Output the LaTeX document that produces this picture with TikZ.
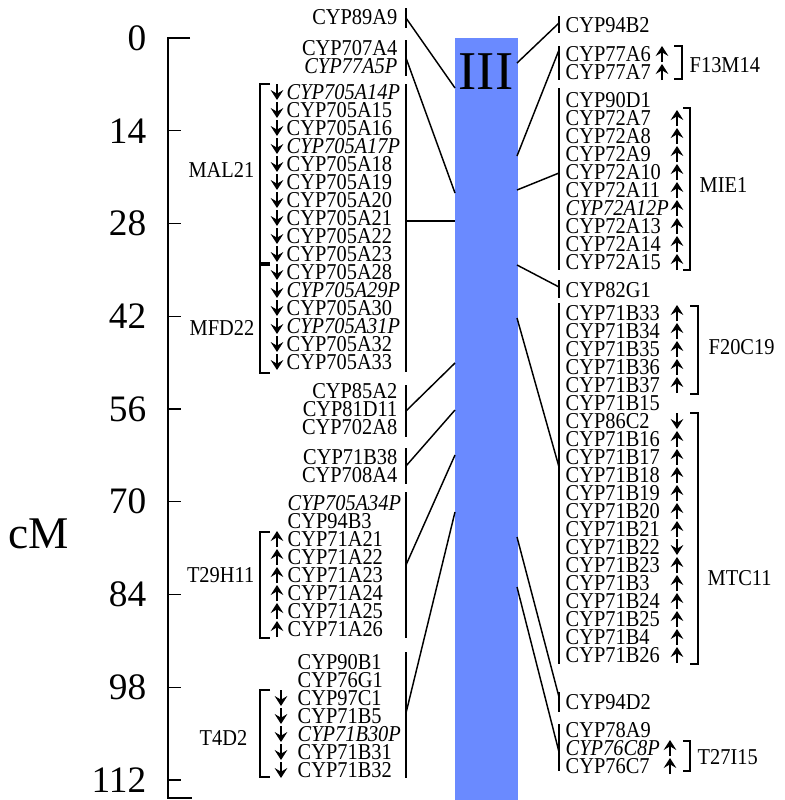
\documentclass[tikz,border=0pt]{standalone}
\usepackage{fontspec}
\setmainfont{Liberation Serif}
\newfontfamily\genefont{Liberation Serif}[FakeStretch=0.9]
\usetikzlibrary{arrows.meta}
\definecolor{chrblue}{RGB}{106,138,255}

\begin{document}
\begin{tikzpicture}[x=0.75pt,y=-0.75pt,line width=1.1pt,
	gene/.style={inner sep=0pt,font=\genefont\fontsize{17}{17}\selectfont},
	strand/.style={line width=1.4pt,-{Stealth[length=7.5pt,width=9.5pt,inset=2.8pt]}}]
	\useasboundingbox (0,0) rectangle (785,800);

	\draw (190,38) -- (168,38) -- (168,798) -- (192,798);
	\foreach \k in {1,...,8}
		\draw (168,38+92.75*\k) -- (181,38+92.75*\k);
	\foreach \v [count=\k from 0] in {0,14,28,42,56,70,84,98,112}
		\node[inner sep=0pt,anchor=east,font=\fontsize{28}{28}\selectfont] (s\k) at (147,38+92.75*\k) {\v};
	\node[inner sep=0pt,anchor=west,font=\fontsize{34}{34}\selectfont] (cM) at (8,534) {cM};

	\fill[chrblue] (455,38) rectangle (518,800);
	\node[inner sep=0pt,font=\fontsize{41}{41}\selectfont] (chr) at (486,72) {III};

	\node[gene,anchor=east] (g1) at (398,17) {CYP89A9};
	\node[gene,anchor=east] (g2) at (398,48) {CYP707A4};
	\node[gene,anchor=east] (g3) at (398,66) {\textit{CYP77A5P}};
	\node[gene,anchor=east] (g4) at (398,391) {CYP85A2};
	\node[gene,anchor=east] (g5) at (398,409) {CYP81D11};
	\node[gene,anchor=east] (g6) at (398,427) {CYP702A8};
	\node[gene,anchor=east] (g7) at (398,457) {CYP71B38};
	\node[gene,anchor=east] (g8) at (398,475) {CYP708A4};

	\foreach \n [count=\k from 0] in {\textit{CYP705A14P},CYP705A15,CYP705A16,\textit{CYP705A17P},CYP705A18,CYP705A19,CYP705A20,CYP705A21,CYP705A22,CYP705A23,CYP705A28,\textit{CYP705A29P},CYP705A30,\textit{CYP705A31P},CYP705A32,CYP705A33}{
		\node[gene,anchor=west] (m\k) at (286,92+18*\k) {\n};
		\draw[strand] (277,84+18*\k) -- (277,100+18*\k);
	}
	\foreach \n/\d [count=\k from 0] in {\textit{CYP705A34P}/0,CYP94B3/0,CYP71A21/-1,CYP71A22/-1,CYP71A23/-1,CYP71A24/-1,CYP71A25/-1,CYP71A26/-1}{
		\node[gene,anchor=west] (t\k) at (287,503+18*\k) {\n};
		\ifnum\d=0\else\draw[strand] (277,511+18*\k) -- (277,495+18*\k);\fi
	}
	\foreach \n/\d [count=\k from 0] in {CYP90B1/0,CYP76G1/0,CYP97C1/1,CYP71B5/1,\textit{CYP71B30P}/1,CYP71B31/1,CYP71B32/1}{
		\node[gene,anchor=west] (d\k) at (297,662+18*\k) {\n};
		\ifnum\d=0\else\draw[strand] (281,654+18*\k) -- (281,670+18*\k);\fi
	}

	\draw (270,84) -- (260,84) -- (260,263) -- (270,263);
	\draw (270,265) -- (260,265) -- (260,373) -- (270,373);
	\draw (270,532) -- (260,532) -- (260,638) -- (270,638);
	\draw (270,690) -- (260,690) -- (260,777) -- (270,777);
	\node[gene,anchor=east] (MAL21) at (255,170) {MAL21};
	\node[gene,anchor=east] (MFD22) at (255,328) {MFD22};
	\node[gene,anchor=east] (T29H11) at (255,575) {T29H11};
	\node[gene,anchor=east] (T4D2) at (248,738) {T4D2};

	\foreach \t/\b in {8/28,40/76,84/372,385/437,448/484,492/638,652/778}
		\draw (406,\t) -- (406,\b);
	\foreach \p/\q [count=\i] in {18/88,58/193,221/221,411/363,466/410,565/455,713/512}{
		\coordinate (lb\i) at (406,\p);
		\coordinate (lc\i) at (455,\q);
		\draw (lb\i) -- (lc\i);
	}

	\node[gene,anchor=west] (r1) at (565,25) {CYP94B2};
	\node[gene,anchor=west] (r2) at (565,54) {CYP77A6};
	\node[gene,anchor=west] (r3) at (565,72) {CYP77A7};
	\draw[strand] (662,62) -- (662,46);
	\draw[strand] (662,80) -- (662,64);
	\node[gene,anchor=west] (r4) at (565,290) {CYP82G1};
	\node[gene,anchor=west] (r5) at (565,702) {CYP94D2};

	\foreach \n/\d [count=\k from 0] in {CYP90D1/0,CYP72A7/-1,CYP72A8/-1,CYP72A9/-1,CYP72A10/-1,CYP72A11/-1,\textit{CYP72A12P}/-1,CYP72A13/-1,CYP72A14/-1,CYP72A15/-1}{
		\node[gene,anchor=west] (e\k) at (565,100+18*\k) {\n};
		\ifnum\d=0\else\draw[strand] (677,108+18*\k) -- (677,92+18*\k);\fi
	}
	\foreach \n/\d [count=\k from 0] in {CYP71B33/-1,CYP71B34/-1,CYP71B35/-1,CYP71B36/-1,CYP71B37/-1,CYP71B15/0,CYP86C2/1,CYP71B16/-1,CYP71B17/-1,CYP71B18/-1,CYP71B19/-1,CYP71B20/-1,CYP71B21/-1,CYP71B22/1,CYP71B23/-1,CYP71B3/-1,CYP71B24/-1,CYP71B25/-1,CYP71B4/-1,CYP71B26/-1}{
		\node[gene,anchor=west] (b\k) at (565,313+18*\k) {\n};
		\ifnum\d=0\else\draw[strand] (677,{313+18*\k-8*(\d)}) -- (677,{313+18*\k+8*(\d)});\fi
	}
	\foreach \n/\d [count=\k from 0] in {CYP78A9/0,\textit{CYP76C8P}/-1,CYP76C7/-1}{
		\node[gene,anchor=west] (c\k) at (565,730+18*\k) {\n};
		\ifnum\d=0\else\draw[strand] (670,738+18*\k) -- (670,722+18*\k);\fi
	}

	\draw (674,46) -- (682,46) -- (682,79) -- (674,79);
	\draw (683,108) -- (690,108) -- (690,270) -- (683,270);
	\draw (690,306) -- (698,306) -- (698,394) -- (690,394);
	\draw (690,413) -- (698,413) -- (698,664) -- (690,664);
	\draw (683,741) -- (690,741) -- (690,771) -- (683,771);
	\node[gene,anchor=west] (F13M14) at (689,65) {F13M14};
	\node[gene,anchor=west] (MIE1) at (699,185) {MIE1};
	\node[gene,anchor=west] (F20C19) at (708,347) {F20C19};
	\node[gene,anchor=west] (MTC11) at (707,578) {MTC11};
	\node[gene,anchor=west] (T27I15) at (697,757) {T27I15};

	\foreach \t/\b in {16/33,46/80,88/270,280/298,303/664,692/712,724/771}
		\draw (559,\t) -- (559,\b);
	\foreach \p/\q [count=\i] in {63/23,156/50,190/173,265/287,318/467,537/697,587/752}{
		\coordinate (rc\i) at (517,\p);
		\coordinate (rb\i) at (559,\q);
		\draw (rc\i) -- (rb\i);
	}
\end{tikzpicture}
\end{document}
